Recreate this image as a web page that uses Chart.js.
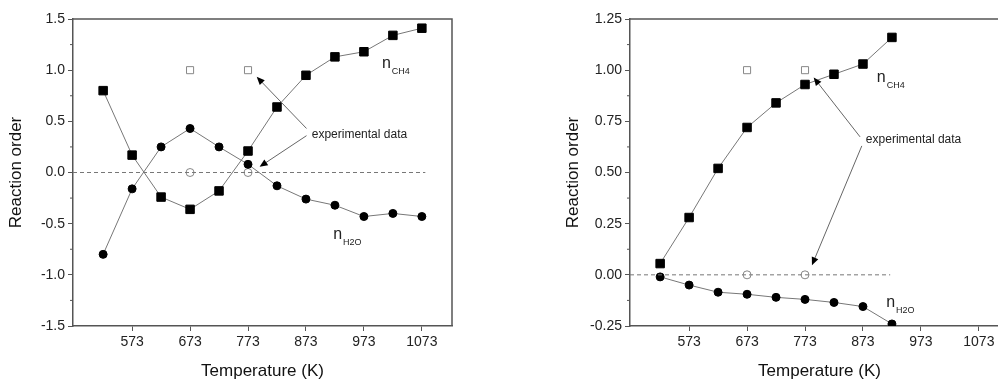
<!DOCTYPE html>
<html>
<head>
<meta charset="utf-8">
<script src="https://cdn.jsdelivr.net/npm/chart.js@4/dist/chart.umd.min.js"></script>
<style>
  html, body { margin: 0; padding: 0; background: #fff; overflow: hidden; width: 998px; height: 381px; }
  .panel { position: absolute; top: 0; height: 381px; }
  #left { left: 0; width: 500px; }
  #right { left: 500px; width: 560px; }
</style>
</head>
<body>
<div class="panel" id="left"><canvas id="chartLeft"></canvas></div>
<div class="panel" id="right"><canvas id="chartRight"></canvas></div>
<script>
// temperatures (K)
var temps = [523, 573, 623, 673, 723, 773, 823, 873, 923, 973, 1023, 1073];
var xTicks = [573, 673, 773, 873, 973, 1073];

// left panel
var leftCH4 = [0.80, 0.17, -0.24, -0.36, -0.18, 0.21, 0.64, 0.95, 1.13, 1.18, 1.34, 1.41];
var leftH2O = [-0.80, -0.16, 0.25, 0.43, 0.25, 0.08, -0.13, -0.26, -0.32, -0.43, -0.40, -0.43];

// right panel
var rightTemps = temps.slice(0, 9);
var rightCH4 = [0.055, 0.28, 0.52, 0.72, 0.84, 0.93, 0.98, 1.03, 1.16];
var rightH2O = [-0.01, -0.05, -0.085, -0.095, -0.11, -0.12, -0.135, -0.155, -0.24];

// experimental data (both panels)
var expTemps = [673, 773];
var expCH4 = [1, 1];
var expH2O = [0, 0];

var FONT = '"Liberation Sans", Arial, sans-serif';
var AXIS = '#555';

function pts(xs, ys) {
    return xs.map(function (x, i) { return { x: x, y: ys[i] }; });
}

function solid(data, style, r) {
    return {
        data: data, showLine: true, borderColor: '#777', borderWidth: 1,
        pointStyle: style, pointRadius: r, pointBackgroundColor: '#000',
        pointBorderColor: '#000', pointBorderWidth: 1
    };
}

function open(data, style, r) {
    return {
        data: data, showLine: false, pointStyle: style, pointRadius: r,
        pointBackgroundColor: '#fff', pointBorderColor: '#888', pointBorderWidth: 1
    };
}

var framePlugin = {
    id: 'frame',
    afterDraw: function (chart) {
        var a = chart.chartArea, ctx = chart.ctx, y = chart.scales.y;
        ctx.save();
        ctx.strokeStyle = AXIS;
        ctx.lineWidth = 1.5;
        ctx.beginPath();
        ctx.moveTo(a.left, a.top);
        ctx.lineTo(a.right, a.top);
        ctx.lineTo(a.right, a.bottom);
        ctx.stroke();
        // minor ticks on y
        ctx.lineWidth = 1;
        var t = y.ticks;
        for (var i = 0; i < t.length - 1; i++) {
            var py = y.getPixelForValue((t[i].value + t[i + 1].value) / 2);
            ctx.beginPath();
            ctx.moveTo(a.left, py);
            ctx.lineTo(a.left - 3, py);
            ctx.stroke();
        }
        ctx.restore();
    }
};

var notePlugin = {
    id: 'notes',
    afterDatasetsDraw: function (chart, args, opts) {
        var ctx = chart.ctx, sx = chart.scales.x, sy = chart.scales.y;
        function P(p) { return [sx.getPixelForValue(p[0]), sy.getPixelForValue(p[1])]; }
        ctx.save();
        ctx.fillStyle = '#222';
        opts.labels.forEach(function (l) {
            var p = P(l.at);
            ctx.font = '16px ' + FONT;
            ctx.textBaseline = 'alphabetic';
            ctx.fillText('n', p[0], p[1]);
            var w = ctx.measureText('n').width;
            ctx.font = '9px ' + FONT;
            ctx.fillText(l.sub, p[0] + w + 1, p[1] + 6);
        });
        var tp = P(opts.text.at);
        ctx.font = '12px ' + FONT;
        ctx.textBaseline = 'middle';
        ctx.fillText('experimental data', tp[0], tp[1]);
        ctx.strokeStyle = '#666';
        ctx.lineWidth = 1;
        opts.arrows.forEach(function (ar) {
            var s = P(ar[0]), e = P(ar[1]);
            var ang = Math.atan2(e[1] - s[1], e[0] - s[0]);
            ctx.beginPath();
            ctx.moveTo(s[0], s[1]);
            ctx.lineTo(e[0] - 6 * Math.cos(ang), e[1] - 6 * Math.sin(ang));
            ctx.stroke();
            ctx.fillStyle = '#000';
            ctx.beginPath();
            ctx.moveTo(e[0], e[1]);
            ctx.lineTo(e[0] - 8 * Math.cos(ang) + 3.5 * Math.sin(ang), e[1] - 8 * Math.sin(ang) - 3.5 * Math.cos(ang));
            ctx.lineTo(e[0] - 8 * Math.cos(ang) - 3.5 * Math.sin(ang), e[1] - 8 * Math.sin(ang) + 3.5 * Math.cos(ang));
            ctx.closePath();
            ctx.fill();
        });
        ctx.restore();
    }
};

function makeChart(id, cfg) {
    var ctx = document.getElementById(id).getContext('2d');
    return new Chart(ctx, {
        type: 'scatter',
        data: {
            datasets: [
                {
                    data: [{ x: 471, y: 0 }, { x: cfg.dashEnd, y: 0 }], showLine: true,
                    borderColor: '#777', borderWidth: 1, borderDash: [4, 3], pointRadius: 0
                },
                solid(pts(cfg.temps, cfg.ch4), 'rect', 6),
                solid(pts(cfg.temps, cfg.h2o), 'circle', 4),
                open(pts(expTemps, expCH4), 'rect', 5),
                open(pts(expTemps, expH2O), 'circle', 4)
            ]
        },
        options: {
            responsive: true,
            maintainAspectRatio: false,
            animation: false,
            layout: { padding: cfg.padding },
            plugins: {
                legend: { display: false },
                tooltip: { enabled: false },
                notes: cfg.notes
            },
            scales: {
                x: {
                    type: 'linear', min: 471, max: 1125,
                    afterBuildTicks: function (s) { s.ticks = xTicks.map(function (v) { return { value: v }; }); },
                    afterFit: function (s) { s.height = 55; },
                    border: { color: AXIS, width: 1.5 },
                    grid: { drawOnChartArea: false, tickLength: 5, color: AXIS },
                    ticks: {
                        color: '#222', font: { family: FONT, size: 14 }, padding: 3, maxRotation: 0,
                        callback: function (v) { return String(v); }
                    },
                    title: { display: true, text: 'Temperature (K)', color: '#111', font: { family: FONT, size: 17 }, padding: { top: 4, bottom: -1 } }
                },
                y: {
                    min: cfg.ymin, max: cfg.ymax,
                    afterFit: function (s) { s.width = 73; },
                    border: { color: AXIS, width: 1.5 },
                    grid: { drawOnChartArea: false, tickLength: 5, color: AXIS },
                    ticks: {
                        stepSize: cfg.step, color: '#222', font: { family: FONT, size: 14 }, padding: 3,
                        callback: function (v) { return v.toFixed(cfg.dec); }
                    },
                    title: { display: true, text: 'Reaction order', color: '#111', font: { family: FONT, size: 17 }, padding: { top: 6, bottom: 0 } }
                }
            }
        },
        plugins: [framePlugin, notePlugin]
    });
}

makeChart('chartLeft', {
    temps: temps, ch4: leftCH4, h2o: leftH2O,
    ymin: -1.5, ymax: 1.5, step: 0.5, dec: 1, dashEnd: 1079,
    padding: { left: 0, right: 48, top: 19, bottom: 0 },
    notes: {
        labels: [{ at: [1004, 1.02], sub: 'CH4' }, { at: [920, -0.653], sub: 'H2O' }],
        text: { at: [883, 0.365] },
        arrows: [[[874, 0.43], [788, 0.935]], [[874, 0.36], [793, 0.056]]]
    }
});

makeChart('chartRight', {
    temps: rightTemps, ch4: rightCH4, h2o: rightH2O,
    ymin: -0.25, ymax: 1.25, step: 0.25, dec: 2, dashEnd: 920,
    padding: { left: 57, right: 51, top: 19, bottom: 0 },
    notes: {
        labels: [{ at: [897, 0.942], sub: 'CH4' }, { at: [913, -0.159], sub: 'H2O' }],
        text: { at: [878, 0.658] },
        arrows: [[[868, 0.674], [788, 0.964]], [[871, 0.63], [785, 0.047]]]
    }
});
</script>
</body>
</html>
